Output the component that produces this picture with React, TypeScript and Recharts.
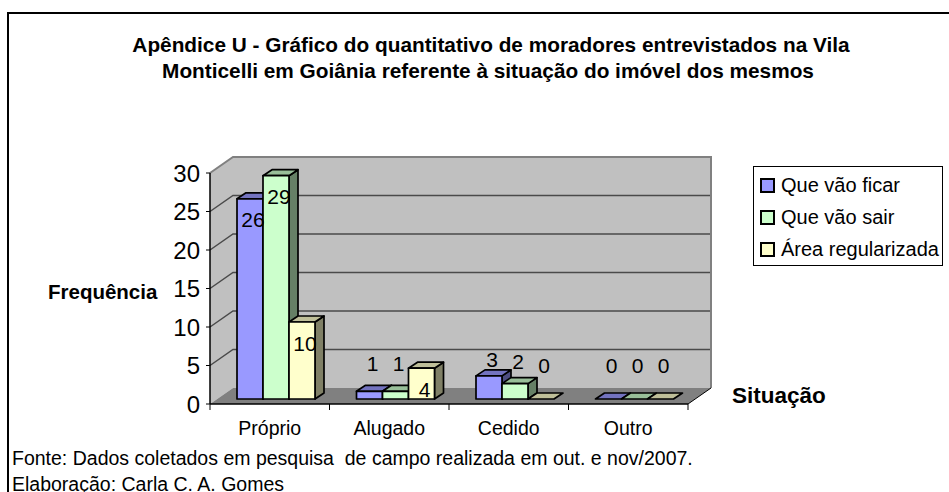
import React from "react";
import {
  BarChart,
  Bar,
  XAxis,
  YAxis,
  Legend,
  LabelList,
  ReferenceArea,
} from "recharts";

const categories = ["Próprio", "Alugado", "Cedido", "Outro"];
const vaoFicar = [26, 1, 3, 0];
const vaoSair = [29, 1, 2, 0];
const areaRegularizada = [10, 4, 0, 0];
const yTicks = [0, 5, 10, 15, 20, 25, 30];

const seriesNames = ["Que vão ficar", "Que vão sair", "Área regularizada"];

const FONT = "'Liberation Sans', Arial, sans-serif";

// 3D offsets: back wall depth, bar position inside the depth, bar thickness
const WALL = { dx: 23, dy: -16 };
const SHIFT = { dx: 6, dy: -5 };
const DEPTH = { dx: 9, dy: -6 };

const colors = [
  { front: "#9999FF", top: "#7373BF", side: "#4D4D80" },
  { front: "#CCFFCC", top: "#99BF99", side: "#668066" },
  { front: "#FFFFCC", top: "#BFBF99", side: "#808066" },
];

const data = categories.map((situacao, i) => ({
  situacao,
  ficar: vaoFicar[i],
  sair: vaoSair[i],
  area: areaRegularizada[i],
}));

const pts = (arr: number[][]) => arr.map((p) => p.join(",")).join(" ");

const Wall = (props: any) => {
  const { x, y, width: w, height: h } = props;
  const yMax = yTicks[yTicks.length - 1];
  const bx = x + WALL.dx;
  const by = y + WALL.dy;
  const band = w / categories.length;
  return (
    <g>
      <polygon
        points={pts([[x, y + h], [x, y], [bx, by], [bx, by + h]])}
        fill="#C0C0C0"
      />
      <rect x={bx} y={by} width={w} height={h} fill="#C0C0C0" />
      <polygon
        points={pts([[x, y + h], [x + w, y + h], [bx + w, by + h], [bx, by + h]])}
        fill="#808080"
      />
      {yTicks
        .filter((t) => t > 0 && t < yMax)
        .map((t) => {
          const ly = y + h * (1 - t / yMax);
          return (
            <polyline
              key={t}
              points={pts([[x, ly], [bx, ly + WALL.dy], [bx + w, ly + WALL.dy]])}
              fill="none"
              stroke="#4a4a4a"
              strokeWidth={1.5}
            />
          );
        })}
      <polyline
        points={pts([[x, y], [bx, by], [bx + w, by], [bx + w, by + h]])}
        fill="none"
        stroke="#808080"
        strokeWidth={2}
      />
      <line x1={x + w} y1={y + h} x2={bx + w} y2={by + h} stroke="#000" strokeWidth={1} />
      {categories.map((c, i) => (
        <line
          key={c}
          x1={x + band * i}
          y1={y + h}
          x2={x + band * i}
          y2={y + h + 6}
          stroke="#000"
          strokeWidth={1}
        />
      ))}
      <line x1={x + w} y1={y + h} x2={x + w} y2={y + h + 6} stroke="#000" strokeWidth={1} />
    </g>
  );
};

const Box3D = (props: any) => {
  const { x, y, width: w, height, shade } = props;
  const h = Math.max(0, height || 0);
  const fx = x + SHIFT.dx;
  const fy = y + SHIFT.dy;
  const stroke = { stroke: "#000", strokeWidth: 1.7, strokeLinejoin: "round" as const };
  return (
    <g>
      {h > 0 && (
        <polygon
          points={pts([[fx + w, fy], [fx + w + DEPTH.dx, fy + DEPTH.dy], [fx + w + DEPTH.dx, fy + h + DEPTH.dy], [fx + w, fy + h]])}
          fill={shade.side}
          {...stroke}
        />
      )}
      <polygon
        points={pts([[fx, fy], [fx + DEPTH.dx, fy + DEPTH.dy], [fx + w + DEPTH.dx, fy + DEPTH.dy], [fx + w, fy]])}
        fill={shade.top}
        {...stroke}
      />
      {h > 0 && <rect x={fx} y={fy} width={w} height={h} fill={shade.front} {...stroke} />}
    </g>
  );
};

// labels sit inside the top of tall bars, above short ones
const DataLabel = (props: any) => {
  const vb = props.viewBox && props.viewBox.width !== undefined ? props.viewBox : props;
  const { x, y, width, height } = vb;
  const value = Number(props.value);
  const base = y + height;
  const cx = x + width / 2 + SHIFT.dx + 3;
  const cy = (value >= 4 ? y + 21 : base - 34 - height * 0.25) + SHIFT.dy;
  return (
    <text
      x={cx}
      y={cy}
      textAnchor="middle"
      dominantBaseline="central"
      fontSize={21}
      fontFamily={FONT}
      fill="#000"
    >
      {value}
    </text>
  );
};

const LegendBox = (props: any) => {
  const payload = props.payload || [];
  return (
    <div
      style={{
        border: "1px solid #000",
        background: "#fff",
        boxSizing: "border-box",
        width: 190,
        height: 100,
        paddingTop: 2,
        paddingLeft: 6,
        fontFamily: FONT,
        fontSize: 20,
      }}
    >
      {payload.map((entry: any) => (
        <div
          key={entry.value}
          style={{ display: "flex", alignItems: "center", height: 32, whiteSpace: "nowrap" }}
        >
          <span
            style={{
              display: "inline-block",
              width: 11,
              height: 11,
              border: "2px solid #000",
              background: entry.color,
              marginRight: 6,
            }}
          />
          <span>{entry.value}</span>
        </div>
      ))}
    </div>
  );
};

const keys = ["ficar", "sair", "area"];

export default function App() {
  return (
    <div style={{ position: "relative", width: 949, height: 492, overflow: "hidden", background: "#fff" }}>
      <style>{"html,body{margin:0;padding:0;overflow:hidden;background:#fff}"}</style>
      <div
        style={{
          position: "absolute",
          left: 7,
          top: 12,
          width: 1000,
          height: 600,
          borderLeft: "2px solid #000",
          borderTop: "2px solid #000",
        }}
      />
      <BarChart
        width={949}
        height={492}
        data={data}
        margin={{ top: 173, right: 261, bottom: 58, left: 150 }}
        barGap={0}
        barSize={26}
        style={{ position: "absolute", left: 0, top: 0 }}
      >
        <ReferenceArea y1={0} y2={30} shape={Wall} zIndex={-10} ifOverflow="visible" />
        <XAxis
          dataKey="situacao"
          height={30}
          axisLine={{ stroke: "#000", strokeWidth: 1.5 }}
          tickLine={false}
          tickSize={0}
          tickMargin={17}
          tick={{ fill: "#000", fontSize: 19.5, fontFamily: FONT }}
          interval={0}
        />
        <YAxis
          width={60}
          domain={[0, 30]}
          ticks={yTicks}
          interval={0}
          axisLine={{ stroke: "#000", strokeWidth: 1.5 }}
          tickLine={{ stroke: "#000" }}
          tickSize={4}
          tickMargin={6}
          tick={{ fill: "#000", fontSize: 24, fontFamily: FONT }}
        />
        <Legend
          layout="vertical"
          align="center"
          verticalAlign="middle"
          content={<LegendBox />}
          wrapperStyle={{ left: 753, top: 166, width: 190, height: 100 }}
        />
        {keys.map((k, i) => (
          <Bar
            key={k}
            dataKey={k}
            name={seriesNames[i]}
            fill={colors[i].front}
            isAnimationActive={false}
            shape={(p: any) => <Box3D {...p} shade={colors[i]} />}
          >
            <LabelList dataKey={k} content={DataLabel} />
          </Bar>
        ))}
      </BarChart>
      <svg
        width={949}
        height={492}
        style={{ position: "absolute", left: 0, top: 0, pointerEvents: "none" }}
        fontFamily={FONT}
      >
        <text x={491} y={52} textAnchor="middle" fontSize={20.8} fontWeight="bold">
          Apêndice U - Gráfico do quantitativo de moradores entrevistados na Vila
        </text>
        <text x={488} y={78} textAnchor="middle" fontSize={20.8} fontWeight="bold">
          Monticelli em Goiânia referente à situação do imóvel dos mesmos
        </text>
        <text x={48} y={299} fontSize={20.5} fontWeight="bold">
          Frequência
        </text>
        <text x={732} y={403} fontSize={22.5} fontWeight="bold">
          Situação
        </text>
        <text x={12} y={465} fontSize={19.5} style={{ whiteSpace: "pre" }}>
          {"Fonte: Dados coletados em pesquisa  de campo realizada em out. e nov/2007."}
        </text>
        <text x={12} y={491} fontSize={19.5}>
          Elaboração: Carla C. A. Gomes
        </text>
      </svg>
    </div>
  );
}
